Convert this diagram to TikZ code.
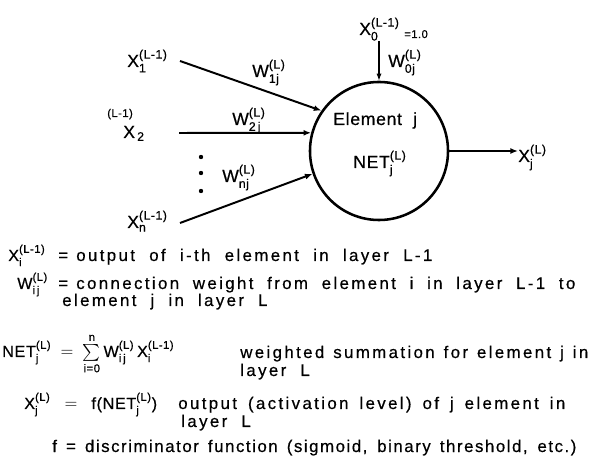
\documentclass[tikz,border=0pt]{standalone}
\usepackage{amsmath}
\usepackage{fontspec}
\setmainfont{Liberation Sans}[LetterSpace=4,FakeBold=0.5]
\newfontfamily\deffont{Liberation Sans}[LetterSpace=14,FakeBold=0.5]
\usepackage{tikz}
\usetikzlibrary{arrows.meta}
\newcommand{\tx}[1]{\text{#1}}
\newcommand{\fitline}[2]{\makebox[#1][s]{#2}}
\tikzset{
  nnlabel/.style={font=\fontsize{12.5}{15}\selectfont,inner sep=0pt,anchor=base west},
  nnelem/.style={circle,draw,line width=1.8pt,minimum size=3.45cm,inner sep=0pt},
  nnarrow/.style={-{Latex[length=1.9mm,width=1.5mm]},line width=1.4pt},
  nnthin/.style={-{Latex[length=1.8mm,width=1.3mm]},line width=0.8pt},
  nnsym/.style={font=\fontsize{11.5}{14}\selectfont,inner sep=0pt,anchor=base west},
  nndef/.style={font=\fontsize{12}{14}\deffont,inner sep=0pt,anchor=base west},
  nndot/.style={circle,fill,inner sep=0pt,minimum size=1.1mm}
}

\begin{document}
\begin{tikzpicture}[x=0.025cm,y=-0.025cm]
    \useasboundingbox (0,0) rectangle (592,471);
    % processing element
    \node[nnelem] (elem) at (379,151) {};
    \node[nnlabel] (name) at (333,125) {Element\ \ j};
    \node[nnlabel] (net) at (353,168) {$\tx{NET}^{\tx{(L)}}_{\tx{j}}$};

    % inputs
    \node[nnlabel] (x1) at (127,67) {$\tx{X}^{\tx{(L-1)}}_{\tx{1}}$};
    \node[nnlabel,font=\fontsize{8}{10}\selectfont] (x2up) at (107,117) {(L-1)};
    \node[nnlabel] (x2) at (123,138) {$\tx{X}_{\,\tx{2}}$};
    \node[nnlabel] (xn) at (127,228) {$\tx{X}^{\tx{(L-1)}}_{\tx{n}}$};
    \coordinate (in1) at (180,61);
    \coordinate (in2) at (179,133);
    \coordinate (inn) at (180,223);
    \draw[nnarrow] (in1) -- (elem.145);
    \draw[nnarrow] (in2) -- (elem.165);
    \draw[nnarrow] (inn) -- (elem.199.5);
    \node[nnlabel] (w1) at (252,77) {$\tx{W}^{\tx{(L)}}_{\tx{1j}}$};
    \node[nnlabel] (w2) at (232,125) {$\tx{W}^{\tx{(L)}}_{\tx{2\,j}}$};
    \node[nnlabel] (wn) at (222,182) {$\tx{W}^{\tx{(L)}}_{\tx{nj}}$};
    \foreach \y [count=\k] in {157,173,191}
      \node[nndot] (dot\k) at (201,\y) {};

    % bias input
    \node[nnlabel] (x0) at (359,35) {$\tx{X}^{\tx{(L-1)}}_{\tx{0}}$};
    \node[nnlabel,font=\fontsize{8}{10}\selectfont] (one) at (404,38) {=1.0};
    \draw[nnthin] (x0.south -| elem.north) -- (elem.north);
    \node[nnlabel] (w0) at (388,67) {$\tx{W}^{\tx{(L)}}_{\tx{0j}}$};

    % output
    \node[nnlabel] (xout) at (518,162) {$\tx{X}^{\tx{(L)}}_{\tx{j}}$};
    \draw[nnarrow,line width=1.1pt] (elem.east) -- (xout.west |- elem.east);

    % definitions
    \node[nnsym] (d1s) at (8,261) {$\tx{X}^{\tx{(L-1)}}_{\tx{i}}$};
    \node[nndef] (d1e) at (58,261) {=};
    \node[nndef] (d1t) at (76,261) {\fitline{8.9cm}{output of i-th element in layer L-1}};

    \node[nnsym] (d2s) at (17,289) {$\tx{W}^{\tx{(L)}}_{\tx{i\,j}}$};
    \node[nndef] (d2e) at (58,289) {=};
    \node[nndef] (d2t) at (76,289)
      {\fitline{12.475cm}{connection weight from element i in layer L-1 to}};
    \node[nndef] (d2c) at (62,306) {element\ \ j\ \ in\ \ layer\ \ L};

    \node[nnsym] (d3s) at (2,357) {$\tx{NET}^{\tx{(L)}}_{\tx{j}}\;=\;
       \sum\limits_{\tx{i=0}}^{\tx{n}}\tx{W}^{\tx{(L)}}_{\tx{i\,j}}\,
       \tx{X}^{\tx{(L-1)}}_{\tx{i}}$};
    \node[nndef] (d3t) at (240,358)
      {\fitline{8.7cm}{weighted summation for element j in}};
    \node[nndef] (d3c) at (240,376) {layer\ \ L};

    \node[nnsym] (d4s) at (24,409) {$\tx{X}^{\tx{(L)}}_{\tx{j}}\;\;=\;\;
       \tx{f(NET}^{\tx{(L)}}_{\tx{j}}\tx{)}$};
    \node[nndef] (d4t) at (178,409)
      {\fitline{9.675cm}{output (activation level) of j element in}};
    \node[nndef] (d4c) at (181,427) {layer\ \ L};

    \node[nndef] (d5) at (52,452)
      {\addfontfeature{LetterSpace=9}%
       \fitline{13.1cm}{f = discriminator function (sigmoid, binary threshold, etc.)}};
\end{tikzpicture}
\end{document}
